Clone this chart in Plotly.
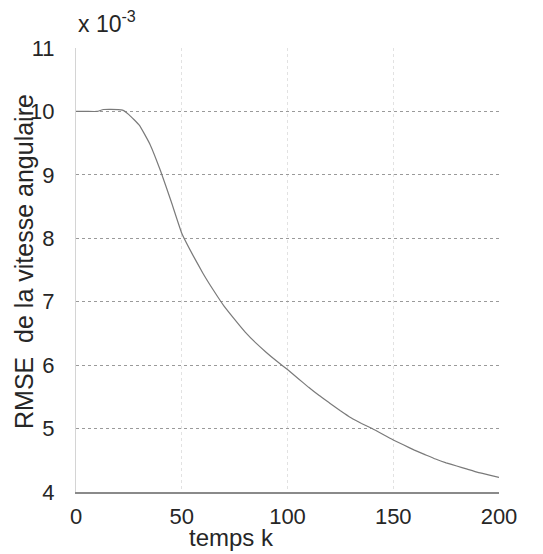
import plotly.graph_objects as go

# time steps k
k_values = [0, 5, 10, 13, 20, 22, 25, 30, 35, 40, 45, 50, 55, 60, 65, 70, 75, 80,
            85, 90, 95, 100, 105, 110, 115, 120, 125, 130, 135, 140, 145, 150,
            155, 160, 165, 170, 175, 180, 185, 190, 195, 200]
# RMSE of angular velocity, in units of 1e-3
rmse_values = [10.00, 10.00, 10.00, 10.03, 10.03, 10.02, 9.95, 9.78, 9.48, 9.06,
               8.58, 8.08, 7.75, 7.45, 7.18, 6.93, 6.72, 6.52, 6.35, 6.20, 6.06,
               5.93, 5.79, 5.65, 5.52, 5.40, 5.28, 5.17, 5.08, 5.00, 4.91, 4.82,
               4.74, 4.66, 4.59, 4.52, 4.46, 4.41, 4.36, 4.31, 4.27, 4.23]

x_ticks = [0, 50, 100, 150, 200]
y_ticks = [4, 5, 6, 7, 8, 9, 10, 11]
x_title = "temps k"
y_title = "RMSE  de la vitesse angulaire"
exponent_label = "x 10<sup>-3</sup>"

FONT = "Liberation Sans, Arial, sans-serif"
TXT = "#262626"

# page has an 8px body margin: work in page pixels, then shift
OFF = 8
W, H = 543 - OFF, 554 - OFF
L, R, T, B = 76 - OFF, 44, 48 - OFF, 62

fig = go.Figure()
fig.add_trace(go.Scatter(x=k_values, y=rmse_values, mode="lines",
                         line=dict(color="#7a7a7a", width=1.2, shape="spline", smoothing=0.35),
                         showlegend=False, hoverinfo="skip"))

fig.update_layout(
    width=W, height=H,
    margin=dict(l=L, r=R, t=T, b=B),
    paper_bgcolor="white", plot_bgcolor="white",
    font=dict(family=FONT, size=21, color=TXT),
    xaxis=dict(range=[0, 200], tickvals=x_ticks, ticktext=[str(v) for v in x_ticks],
               showgrid=True, gridcolor="#e2e2e2", griddash="dot", gridwidth=1,
               showline=True, linecolor="#8a8a8a", linewidth=1.5,
               ticks="", zeroline=False, ticklabelstandoff=4,
               tickfont=dict(family=FONT, size=22, color=TXT)),
    yaxis=dict(range=[4, 11], tickvals=y_ticks, ticktext=[str(v) for v in y_ticks],
               showgrid=True, gridcolor="#9a9a9a", griddash="dot", gridwidth=1,
               showline=True, linecolor="#d4d4d4", linewidth=1,
               ticks="", zeroline=False, ticklabelstandoff=16,
               tickfont=dict(family=FONT, size=22, color=TXT)),
)

pw = W - L - R
ph = H - T - B


def px(xp):
    return (xp - OFF - L) / pw


def py(yp):
    return (H - B - (yp - OFF)) / ph


fig.add_annotation(text=x_title, xref="paper", yref="paper",
                   x=px(231), y=py(537), showarrow=False,
                   font=dict(family=FONT, size=24, color=TXT),
                   xanchor="center", yanchor="middle")
fig.add_annotation(text=y_title, xref="paper", yref="paper",
                   x=px(24), y=py(262), showarrow=False, textangle=-90,
                   font=dict(family=FONT, size=25, color=TXT),
                   xanchor="center", yanchor="middle")
fig.add_annotation(text=exponent_label, xref="paper", yref="paper",
                   x=px(76), y=py(22), showarrow=False,
                   font=dict(family=FONT, size=23, color=TXT),
                   xanchor="left", yanchor="middle")

fig.write_html("out.html")
